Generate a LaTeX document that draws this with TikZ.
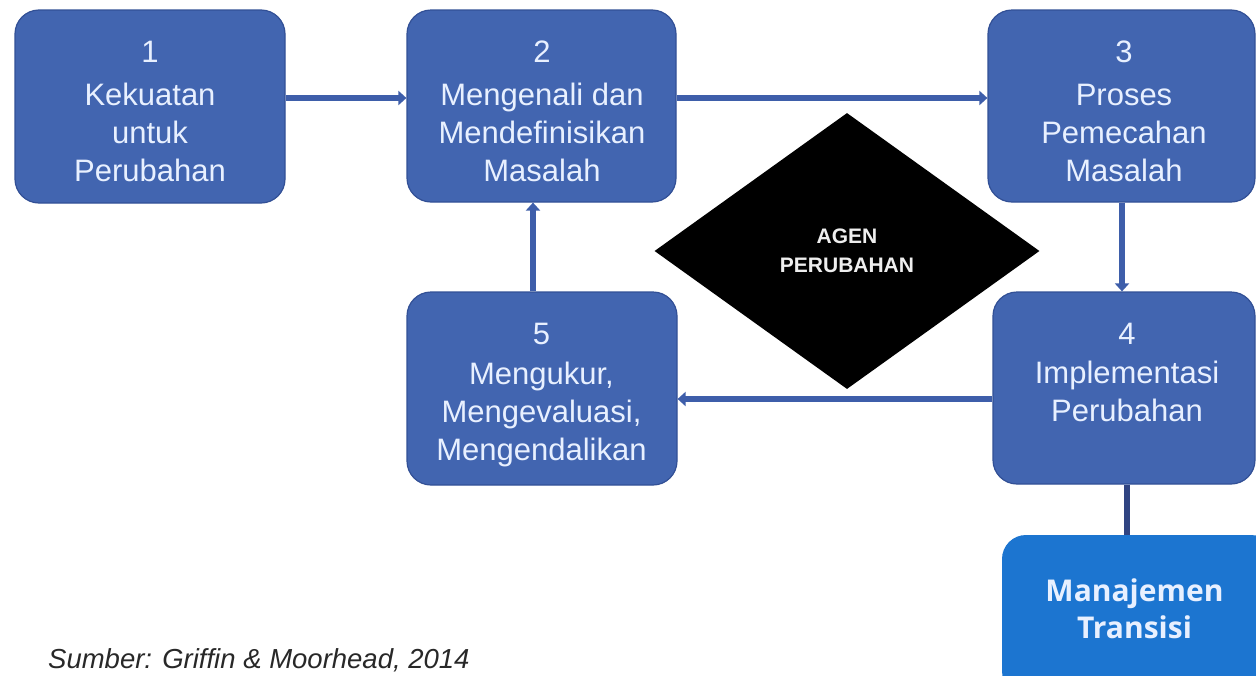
\documentclass[tikz,border=0pt]{standalone}
\usepackage{fontspec}
\setmainfont{Liberation Sans}
\newfontfamily\mtfont{Open Sans}
\usetikzlibrary{arrows.meta,shapes.geometric}
\definecolor{boxblue}{RGB}{66,101,176}
\definecolor{boxedge}{RGB}{50,80,150}
\definecolor{arrowblue}{RGB}{62,94,170}
\definecolor{linkblue}{RGB}{48,68,130}
\definecolor{mtblue}{RGB}{28,117,208}
\definecolor{textlight}{RGB}{232,240,255}
\definecolor{captiongray}{RGB}{40,40,40}
\begin{document}
\begin{tikzpicture}[x=1pt,y=-1pt,
  stepbox/.style={rectangle, draw=boxedge, line width=1.2pt, fill=boxblue,
    rounded corners=24pt, inner sep=0pt},
  boxtext/.style={text=textlight, font=\fontsize{31}{38}\selectfont,
    align=center, inner sep=0pt, anchor=north},
  arr/.style={draw=arrowblue, line width=6pt,
    -{Triangle[width=14pt,length=8pt]}},
  link/.style={draw=linkblue, line width=6pt}]
\useasboundingbox (0,0) rectangle (1256,675);
\fill[white] (0,0) rectangle (1256,675);

% boxes
\node[stepbox, minimum width=270pt, minimum height=193pt] (b1) at (150,106.5) {};
\node[stepbox, minimum width=269pt, minimum height=192pt] (b2) at (541.5,106) {};
\node[stepbox, minimum width=267pt, minimum height=192pt] (b3) at (1121.5,106) {};
\node[stepbox, minimum width=262pt, minimum height=192pt] (b4) at (1124,388) {};
\node[stepbox, minimum width=270pt, minimum height=193pt] (b5) at (542,388.5) {};
\node[rectangle, fill=mtblue, rounded corners=24pt, inner sep=0pt,
  minimum width=273pt, minimum height=160pt] (b6) at (1138.5,615) {};

% box texts
\node[boxtext] (t1) at (150,41) {1\\[5pt]Kekuatan\\untuk\\Perubahan};
\node[boxtext] (t2) at (542,41) {2\\[5pt]Mengenali dan\\Mendefinisikan\\Masalah};
\node[boxtext] (t3) at (1124,41) {3\\[5pt]Proses\\Pemecahan\\Masalah};
\node[boxtext] (t4) at (1127,323) {4\\[1pt]Implementasi\\Perubahan};
\node[boxtext] (t5) at (541.5,323) {5\\[2pt]Mengukur,\\Mengevaluasi,\\Mengendalikan};
\node[text=textlight, font=\mtfont\bfseries\fontsize{30}{37}\selectfont,
  align=center, inner sep=0pt, anchor=north] (t6) at (1134.5,578.5)
  {Manajemen\\Transisi};

% diamond
\node[diamond, fill=black, aspect=1.395, inner sep=0pt,
  minimum width=385pt, minimum height=276pt, text={rgb,255:red,238;green,238;blue,238},
  align=center, font=\bfseries\fontsize{21}{29}\selectfont] (ag) at (847,251)
  {AGEN\\PERUBAHAN};

% connector guides
\coordinate (rowtop) at (0,98);
\coordinate (rowbot) at (0,399);
\coordinate (col3) at (1122,0);
\coordinate (col5) at (533,0);
\coordinate (col4) at (1127,0);

% connectors
\draw[arr] (b1.east |- rowtop) -- (b2.west |- rowtop);
\draw[arr] (b2.east |- rowtop) -- (b3.west |- rowtop);
\draw[arr] (b3.south -| col3) -- (b4.north -| col3);
\draw[arr] (b4.west |- rowbot) -- (b5.east |- rowbot);
\draw[arr] (b5.north -| col5) -- (b2.south -| col5);
\draw[link] (b4.south -| col4) -- (b6.north -| col4);

% source
\node[anchor=base west, inner sep=0pt, text=captiongray,
  font=\itshape\fontsize{27.5}{32}\selectfont] (src) at (48,668)
  {Sumber: Griffin \& Moorhead, 2014};
\end{tikzpicture}
\end{document}
